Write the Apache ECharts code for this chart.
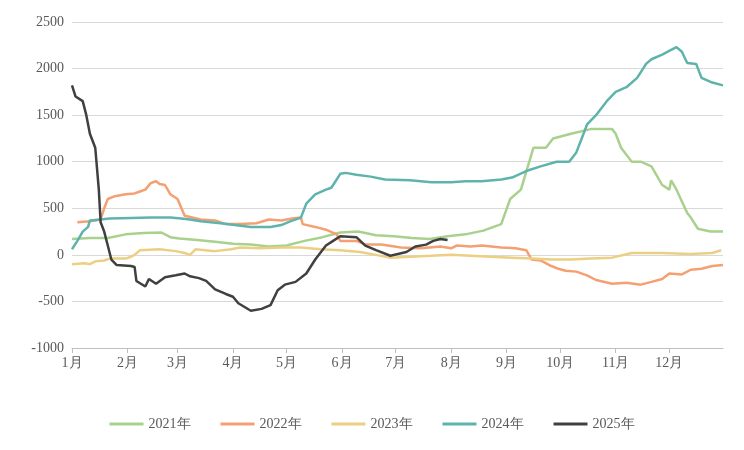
<!DOCTYPE html>
<html><head><meta charset="utf-8">
<script src="https://cdn.jsdelivr.net/npm/echarts@6/dist/echarts.min.js"></script>
<style>html,body{margin:0;padding:0;background:#fff}#c{width:744px;height:450px}</style>
</head><body><div id="c"></div>
<script>
const monthDays=[31,28,31,30,31,30,31,31,30,31,30,31];
const seriesNames=['2021年','2022年','2023年','2024年','2025年'];
const s2021=[[0,170],[10,180],[20,180],[30,220],[40,235],[50,240],[55,190],[60,175],[70,160],[80,140],[90,120],[100,110],[110,90],[120,100],[130,150],[140,190],[150,240],[160,250],[170,210],[180,200],[190,180],[200,170],[210,200],[220,220],[230,260],[240,330],[245,600],[251,700],[258,1150],[265,1150],[269,1250],[279,1300],[290,1350],[302,1350],[304,1300],[307,1150],[313,1000],[318,1000],[324,950],[330,750],[334,700],[335,800],[338,700],[344,450],[346,400],[350,280],[357,250],[364,250]];
const s2022=[[3,350],[10,360],[16,380],[18,500],[20,600],[24,630],[30,650],[35,660],[38,680],[41,700],[44,770],[47,790],[49,760],[52,750],[55,650],[59,600],[63,420],[72,380],[80,370],[86,330],[94,330],[103,340],[105,350],[110,380],[117,370],[123,390],[128,400],[129,330],[136,300],[142,270],[148,220],[150,150],[159,150],[164,110],[173,110],[184,80],[195,70],[206,90],[212,70],[215,100],[223,90],[229,100],[240,80],[248,70],[254,50],[257,-50],[262,-60],[268,-120],[272,-150],[276,-170],[282,-180],[288,-220],[293,-270],[302,-310],[310,-300],[318,-320],[324,-290],[330,-260],[334,-200],[341,-210],[346,-160],[352,-150],[358,-120],[364,-110]];
const s2023=[[0,-100],[7,-90],[10,-100],[13,-70],[18,-60],[21,-40],[30,-40],[33,-20],[35,0],[38,50],[49,60],[58,40],[63,20],[66,0],[69,60],[80,40],[89,60],[94,80],[105,70],[117,80],[128,80],[139,60],[150,50],[161,30],[170,0],[178,-30],[189,-20],[201,-10],[212,0],[223,-10],[234,-20],[246,-30],[257,-40],[268,-50],[279,-50],[290,-40],[302,-30],[313,20],[330,20],[346,10],[358,20],[363,50]];
const s2024=[[0,60],[3,150],[6,250],[9,300],[10,370],[16,380],[21,390],[33,395],[44,400],[55,400],[61,390],[66,380],[72,360],[83,340],[91,320],[100,300],[111,300],[117,320],[122,360],[128,400],[131,550],[136,650],[142,700],[145,720],[147,780],[150,870],[153,880],[159,860],[167,840],[175,810],[189,800],[201,780],[212,780],[220,790],[229,790],[240,810],[246,830],[254,900],[262,950],[271,1000],[278,1000],[282,1100],[285,1250],[288,1400],[293,1500],[299,1650],[304,1750],[310,1800],[316,1900],[321,2050],[324,2100],[330,2150],[335,2200],[338,2230],[341,2180],[344,2060],[349,2050],[352,1900],[358,1850],[364,1820]];
const s2025=[[0,1820],[2,1700],[6,1650],[8,1500],[10,1300],[13,1150],[15,700],[16,350],[18,250],[20,100],[22,-50],[25,-110],[33,-120],[35,-130],[36,-280],[41,-340],[43,-260],[47,-310],[52,-240],[58,-220],[63,-200],[66,-230],[71,-250],[75,-280],[80,-370],[86,-420],[90,-450],[93,-520],[100,-600],[106,-580],[111,-540],[115,-380],[119,-320],[125,-290],[131,-200],[136,-50],[142,100],[146,150],[150,200],[159,190],[164,100],[170,50],[178,-10],[187,30],[192,90],[198,110],[202,150],[206,170],[210,160]];
const colors=['#a9d18e','#f4a072','#eccf83','#5fb3ad','#404040'];
const cats=[];const monthStart=new Set();
monthDays.forEach((n,m)=>{monthStart.add(cats.length);for(let d=1;d<=n;d++)cats.push((m+1)+'月'+d+'日');});
const data=[s2021,s2022,s2023,s2024,s2025];
const chart=echarts.init(document.getElementById('c'));
const font='"Liberation Serif","Times New Roman",serif';
chart.setOption({
  animation:false,color:colors,
  grid:{left:72,right:21,top:22,bottom:102},
  legend:{bottom:14,itemWidth:34,itemHeight:3,itemGap:30,icon:'rect',textStyle:{color:'#595959',fontSize:14,fontFamily:font},data:seriesNames},
  xAxis:{type:'category',data:cats,boundaryGap:false,
    axisLine:{onZero:false,lineStyle:{color:'#bfbfbf'}},
    axisTick:{show:true,interval:(i)=>monthStart.has(i),lineStyle:{color:'#bfbfbf'}},
    axisLabel:{interval:(i)=>monthStart.has(i),formatter:v=>v.split('月')[0]+'月',color:'#595959',fontSize:14,fontFamily:font}},
  yAxis:{type:'value',min:-1000,max:2500,interval:500,
    axisLabel:{color:'#595959',fontSize:14,fontFamily:font,formatter:v=>String(v)},
    splitLine:{lineStyle:{color:'#d9d9d9'}}},
  series:data.map((d,i)=>({name:seriesNames[i],type:'line',data:d,showSymbol:false,lineStyle:{width:2.5},z:i}))
});
</script></body></html>
